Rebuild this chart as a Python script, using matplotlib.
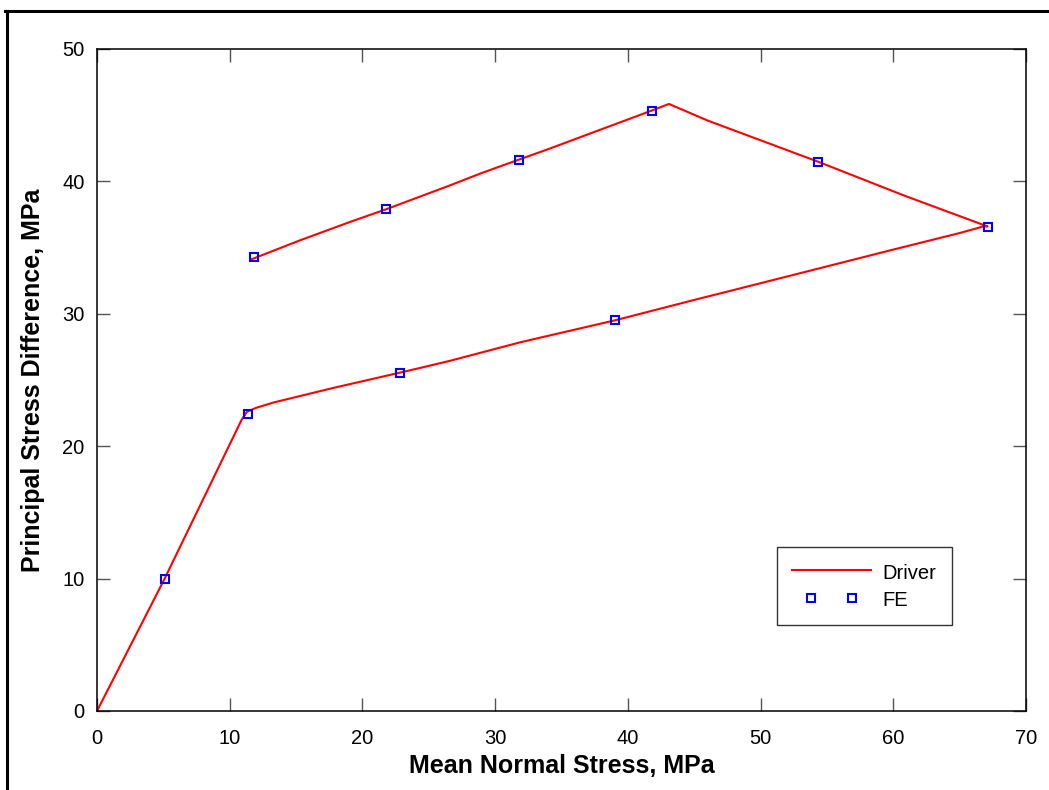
import matplotlib
matplotlib.use("Agg")
import matplotlib.pyplot as plt
from matplotlib.lines import Line2D
from matplotlib.legend_handler import HandlerLine2D

# Driver curve (loading path then unloading path)
driver_x = [0.0, 5.1, 10.9, 11.3, 12.0, 13.3, 17.8, 22.8, 24.3, 26.6, 31.9,
            39.0, 45.4, 47.0, 53.7, 59.8, 65.0, 66.8, 67.1, 60.9, 54.3, 46.0,
            43.1, 41.8, 33.9, 31.8, 28.9, 26.6, 21.8, 19.1, 15.3, 11.6]
driver_y = [0.0, 10.0, 22.0, 22.6, 22.9, 23.3, 24.4, 25.55, 25.9, 26.45, 27.85,
            29.5, 31.15, 31.55, 33.25, 34.8, 36.1, 36.6, 36.6, 38.9, 41.5, 44.6,
            45.85, 45.35, 42.4, 41.65, 40.6, 39.7, 37.9, 36.95, 35.55, 34.1]

# FE results
fe_x = [5.1, 11.35, 22.8, 39.0, 67.1, 54.3, 41.8, 31.8, 21.8, 11.8]
fe_y = [10.0, 22.45, 25.55, 29.5, 36.55, 41.5, 45.35, 41.65, 37.95, 34.3]

x_ticks = [0, 10, 20, 30, 40, 50, 60, 70]
y_ticks = [0, 10, 20, 30, 40, 50]

plt.rcParams["font.family"] = ["Liberation Sans", "DejaVu Sans"]

fig = plt.figure(figsize=(10.49, 7.90), dpi=100)
ax = fig.add_axes([97 / 1049, 1 - 711 / 790, 929 / 1049, 662 / 790])

ax.plot(driver_x, driver_y, color="#ff0000", lw=1.5, label="Driver")
fe_line, = ax.plot(fe_x, fe_y, ls="none", marker="s", ms=6, mfc="none",
                   mec="#0000ff", mew=1.5, label="FE")

ax.set_xlim(0, 70)
ax.set_ylim(0, 50)
ax.set_xticks(x_ticks)
ax.set_yticks(y_ticks)
ax.tick_params(direction="in", length=9.5, width=1, color="#555555",
               top=True, right=True, labelsize=14.5)
ax.tick_params(axis="x", pad=13)
ax.tick_params(axis="y", pad=9)
for sp in ax.spines.values():
    sp.set_linewidth(1.1)

ax.set_xlabel("Mean Normal Stress, MPa", fontsize=18, fontweight="bold",
              labelpad=4)
ax.set_ylabel("Principal Stress Difference, MPa", fontsize=18,
              fontweight="bold", labelpad=12)

leg = ax.legend(loc="upper left", bbox_to_anchor=(0.732, 0.248),
                borderaxespad=0, fontsize=14.5, fancybox=False,
                edgecolor="#333333", framealpha=1, handlelength=3.9,
                handletextpad=0.6, labelspacing=0.3, borderpad=0.75,
                handleheight=1.2,
                handler_map={fe_line: HandlerLine2D(numpoints=2, marker_pad=0.95)})
leg.get_frame().set_linewidth(1.0)

# outer border of the figure (clipped at the right and bottom in the original)
fig.add_artist(Line2D([6.5 / 1049, 6.5 / 1049], [0, 1 - 10.5 / 790],
                      color="black", lw=2.2, transform=fig.transFigure))
fig.add_artist(Line2D([5 / 1049, 1], [1 - 10.5 / 790, 1 - 10.5 / 790],
                      color="black", lw=2.2, transform=fig.transFigure))

fig.savefig("out.png", dpi=100)
